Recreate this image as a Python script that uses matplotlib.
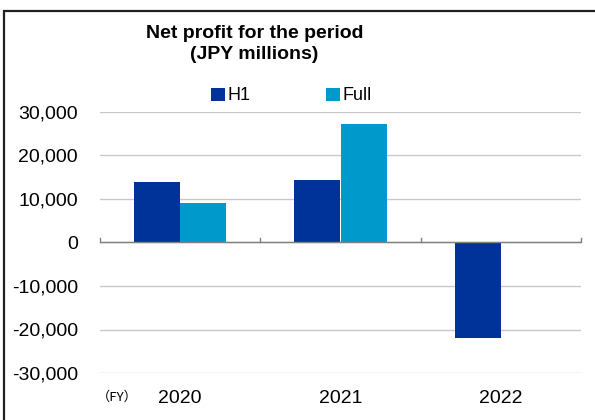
import matplotlib
matplotlib.use("Agg")
import matplotlib.pyplot as plt
from matplotlib.patches import Rectangle
from matplotlib.ticker import FuncFormatter
import numpy as np

plt.rcParams['font.family'] = ['Liberation Sans', 'DejaVu Sans']

categories = ["2020", "2021", "2022"]
h1_values = [13800, 14400, -21900]
full_values = [9100, 27300, np.nan]
series_names = ["H1", "Full"]
title = "Net profit for the period\n(JPY millions)"
fy_label = "（FY）"

c_h1 = "#003399"
c_full = "#0099CC"

fig = plt.figure(figsize=(5.95, 4.2), dpi=100)
ax = fig.add_axes([100/595, 1-373/420, 481/595, (373-112)/420])

x = np.arange(len(categories))
w = 0.2875
ax.bar(x - w/2, h1_values, width=w, color=c_h1, label=series_names[0], zorder=3)
ax.bar(x + w/2, full_values, width=w, color=c_full, label=series_names[1], zorder=3)

ax.set_xlim(-0.5, len(categories) - 0.5)
ax.set_ylim(-30000, 30000)
ax.set_yticks(np.arange(-30000, 30001, 10000))
ax.yaxis.set_major_formatter(FuncFormatter(lambda v, p: f"{int(v):,}"))
ax.grid(axis='y', color='#c8c8c8', linewidth=1.0, zorder=0)
ax.set_axisbelow(True)
for s in ax.spines.values():
    s.set_visible(False)
ax.tick_params(axis='y', length=0, pad=16, labelsize=14)
ax.set_xticks(x)
ax.set_xticklabels(categories)
ax.tick_params(axis='x', length=0, pad=12, labelsize=14)

# zero axis line with boundary tick marks
ax.axhline(0, color='#808080', linewidth=1.0, zorder=4)
bounds = np.arange(len(categories) + 1) - 0.5
for b in bounds:
    ax.plot([b, b], [0, 1000], color='#808080', linewidth=1.0, zorder=4, clip_on=False)

fig.text(97/595, 1-397/420, fy_label, fontsize=9.5, ha='left', va='center',
         family=['Noto Sans CJK JP', 'DejaVu Sans'])

fig.text(0.428, 1-44/420, title, fontsize=14, fontweight='bold', ha='center', va='center',
         linespacing=1.25)

leg = fig.legend(loc='center', bbox_to_anchor=(0.49, 1-96/420), ncol=2, frameon=False,
                 fontsize=13, handlelength=0.75, handleheight=0.75, handletextpad=0.15,
                 columnspacing=4.2)

fig.patches.append(Rectangle((4/595, -0.05), 1.2, 0.05 + 1-11/420, transform=fig.transFigure,
                             fill=False, edgecolor='#202020', linewidth=1.6, clip_on=False))

fig.savefig("out.png", dpi=100)
